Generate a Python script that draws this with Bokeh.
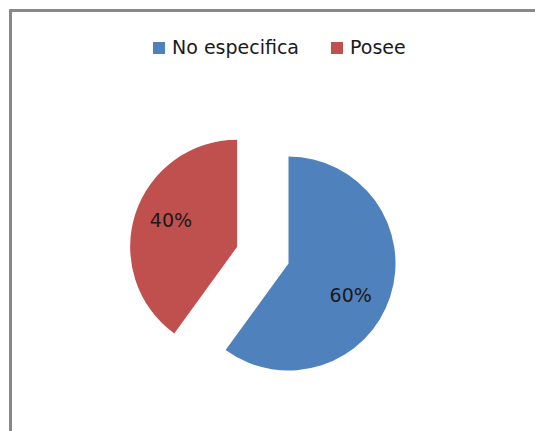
import numpy as np
from bokeh.plotting import figure
from bokeh.models import ColumnDataSource, Range1d, Legend, LegendItem
from bokeh.embed import file_html
from bokeh.resources import INLINE
from bokeh.core.properties import value

# ---- data ----
categories = ["No especifica", "Posee"]
shares = [60, 40]
colors = ["#4F81BD", "#C0504D"]
explode = [0, 54]          # px offset of each slice along its bisector

# ---- layout ----
W, H = 535, 431
cx, cy = 288, H - 263      # pie centre (data units == pixels)
R = 107
FONT = "DejaVu Sans"
label_nudge_x = [-5, 1]
label_nudge_y = [-10, 5]

frac = np.array(shares, dtype=float) / sum(shares)
cum = np.concatenate([[0.0], np.cumsum(frac)])
start = np.pi / 2 - 2 * np.pi * cum[:-1]
end = np.pi / 2 - 2 * np.pi * cum[1:]
mid = (start + end) / 2
xs = cx + np.array(explode) * np.cos(mid)
ys = cy + np.array(explode) * np.sin(mid)
lx = xs + 0.66 * R * np.cos(mid) + np.array(label_nudge_x)
ly = ys + 0.66 * R * np.sin(mid) + np.array(label_nudge_y)
labels = [f"{s}%" for s in shares]

p = figure(width=W, height=H, x_range=Range1d(0, W), y_range=Range1d(0, H),
           output_backend="svg", toolbar_location=None,
           x_axis_location=None, y_axis_location=None, min_border=0)
p.grid.visible = False
p.outline_line_color = None
p.background_fill_color = "white"
p.border_fill_color = "white"

# chart-area frame (only left and top edges visible in the crop)
p.segment(x0=[10, 9], y0=[H - 9, H - 10], x1=[10, W], y1=[0, H - 10],
          line_color="#888888", line_width=3)

items = []
for i, cat in enumerate(categories):
    src = ColumnDataSource(dict(x=[xs[i]], y=[ys[i]], s=[start[i]], e=[end[i]]))
    r = p.wedge(x="x", y="y", radius=R, start_angle="s", end_angle="e",
                direction="clock", fill_color=colors[i], line_color=None, source=src)
    items.append(LegendItem(label=cat, renderers=[r]))

lsrc = ColumnDataSource(dict(x=lx, y=ly, t=labels))
p.text(x="x", y="y", text="t", source=lsrc, text_font=value(FONT),
       text_font_size="19px", text_align="center", text_baseline="middle",
       text_color="#1a1a1a")

legend = Legend(items=items, orientation="horizontal", location=(151, 373),
                padding=0, margin=0, border_line_alpha=0, background_fill_alpha=0,
                glyph_width=15, glyph_height=15, label_standoff=6, spacing=30,
                label_text_font=FONT, label_text_font_size="19px",
                label_text_color="#1a1a1a")
p.add_layout(legend, "center")

open("out.html", "w").write(file_html(p, INLINE))
